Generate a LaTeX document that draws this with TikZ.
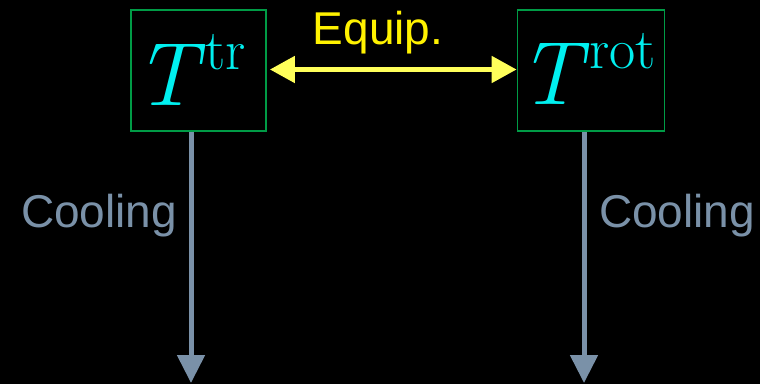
\documentclass[tikz,border=0pt]{standalone}
\usepackage{fontspec}
\setsansfont{Liberation Sans}
\usetikzlibrary{arrows.meta}
\definecolor{boxgreen}{RGB}{0,155,70}
\definecolor{tcyan}{RGB}{0,240,240}
\definecolor{eqyellow}{RGB}{255,255,90}
\definecolor{coolgrey}{RGB}{122,145,168}
\newcommand{\tempsym}[1]{{\itshape T\/}\raisebox{36pt}{\fontsize{57}{60}\selectfont #1}}
\tikzset{
  tempbox/.style={draw=boxgreen,line width=1.8pt,inner sep=0pt},
  tempsymbol/.style={text=tcyan,font=\rmfamily\fontsize{90}{96}\selectfont,inner sep=0pt,anchor=base west},
  equiparrow/.style={{Triangle[length=25pt,width=26pt]}-{Triangle[length=25pt,width=26pt]},
    color=eqyellow,line width=5pt},
  coolarrow/.style={-{Triangle[length=28pt,width=27pt]},color=coolgrey,line width=5pt},
  labeltext/.style={font=\sffamily\fontsize{46}{50}\selectfont,inner sep=0pt}
}
\begin{document}
\begin{tikzpicture}[x=1pt,y=-1pt]
\fill[black] (0,0) rectangle (760,384);
\useasboundingbox (0,0) rectangle (760,384);

% temperature boxes
\node[tempbox,minimum width=135pt,minimum height=121pt] (ttr) at (198.5,70.5) {};
\node[tempbox,minimum width=147pt,minimum height=121pt] (trot) at (591,70.5) {};
\node[tempsymbol] (ttrsym) at (134,105) {\tempsym{tr}};
\node[tempsymbol] (trotsym) at (518,104) {\tempsym{rot}};

% equipartition
\draw[equiparrow] ([xshift=3pt,yshift=1pt]ttr.east) -- ([yshift=1pt]trot.west);
\node[labeltext,text=yellow] (equip) at (378,33) {Equip.};

% cooling
\coordinate (trend) at (191,383);
\coordinate (rotend) at (584,383);
\draw[coolarrow] (ttr.south -| trend) -- (trend);
\draw[coolarrow] (trot.south -| rotend) -- (rotend);
\node[labeltext,text=coolgrey] (trcool) at (99,216) {Cooling};
\node[labeltext,text=coolgrey] (rotcool) at (677,216) {Cooling};

\end{tikzpicture}
\end{document}
